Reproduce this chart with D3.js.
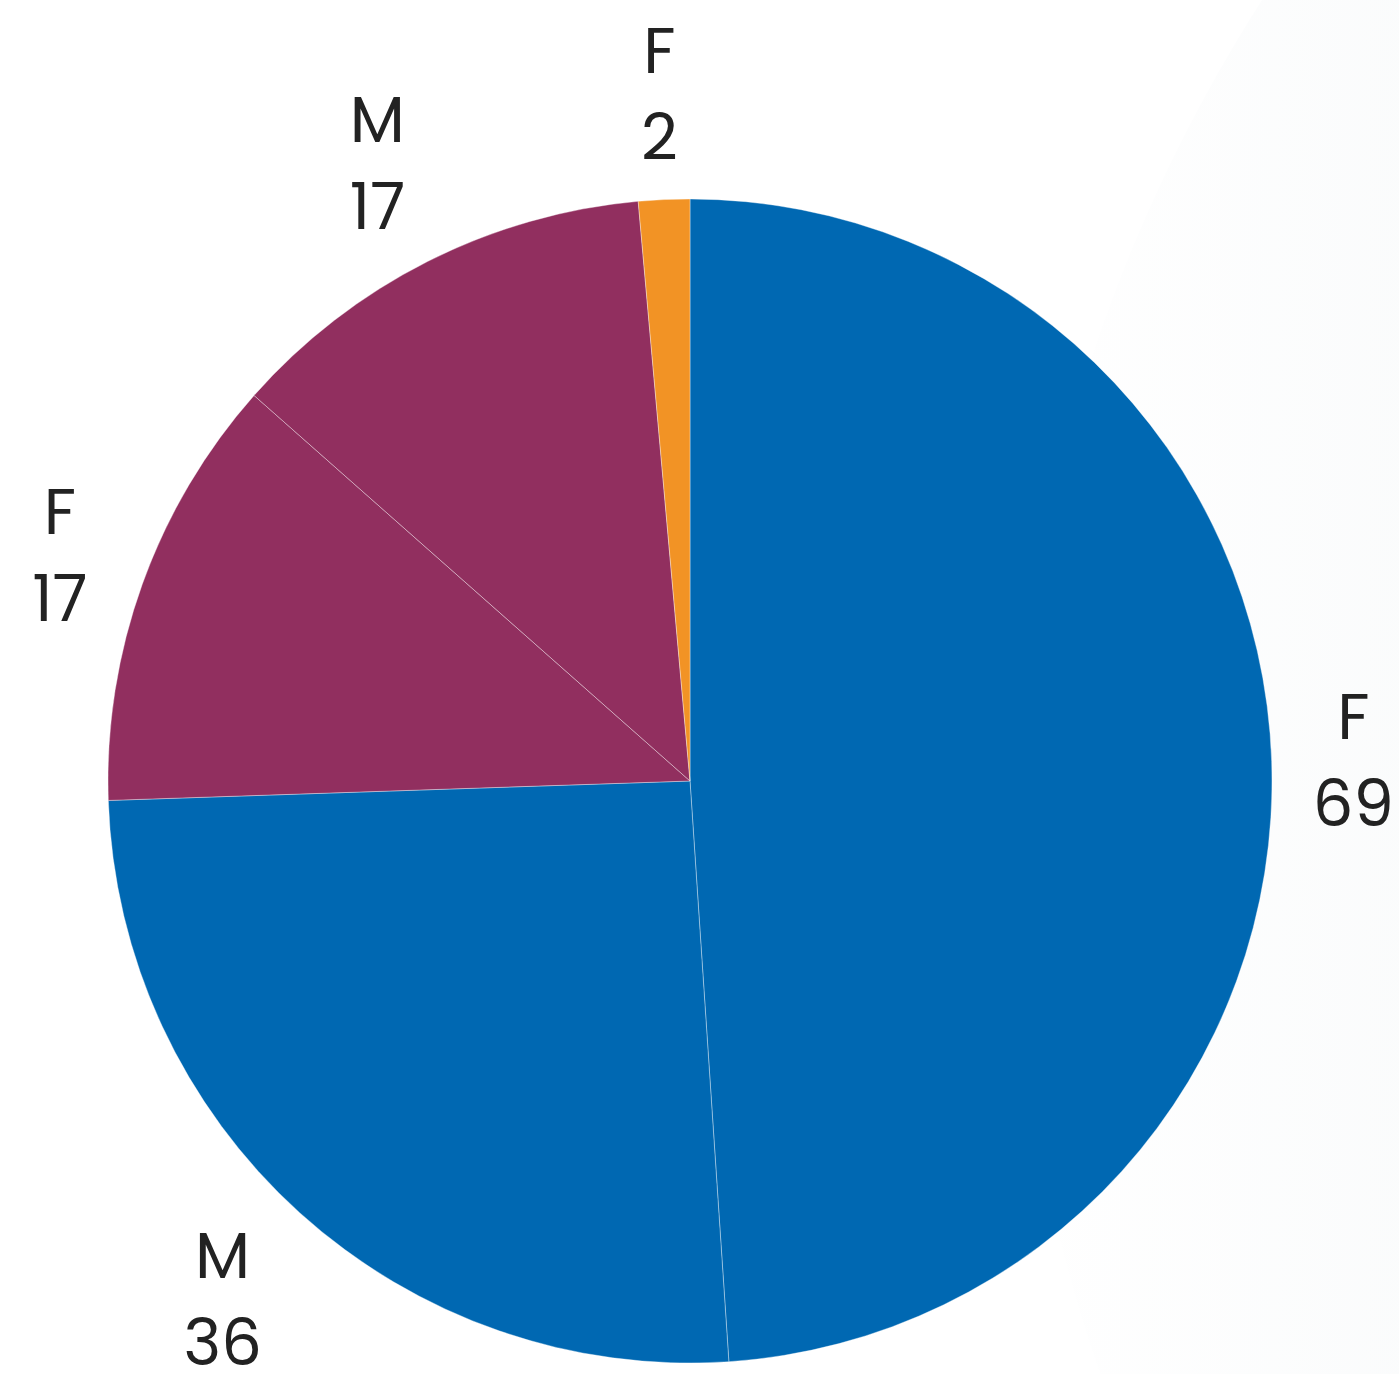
<!DOCTYPE html>
<html>
<head>
<meta charset="utf-8">
<script src="https://cdn.jsdelivr.net/npm/d3@7"></script>
<style>
  html, body { margin: 0; padding: 0; background: #ffffff; }
  svg { display: block; }
</style>
</head>
<body>
<div id="chart"></div>
<script>
// ---- data ----
const categories = ["F", "M", "F", "M", "F"];
const values = [69, 36, 17, 17, 2];
const colors = ["#0068B2", "#0068B2", "#912F5F", "#912F5F", "#F29325"];

// ---- layout ----
const W = 1399, H = 1374;
const cx = 690, cy = 781, R = 582;
const fontSize = 64, capH = 0.727 * fontSize, lineGap = 87, labelGap = 39;

const svg = d3.select("#chart").append("svg")
  .attr("width", W).attr("height", H);

// faint decorative background shape
const defs = svg.append("defs");
const grad = defs.append("linearGradient").attr("id", "bgGrad")
  .attr("x1", "0").attr("y1", "0").attr("x2", "1").attr("y2", "0");
grad.append("stop").attr("offset", "0").attr("stop-color", "#ffffff");
grad.append("stop").attr("offset", "0.25").attr("stop-color", "#f6f8f9");
grad.append("stop").attr("offset", "1").attr("stop-color", "#f3f6f8");
svg.append("circle")
  .attr("cx", 2592).attr("cy", 853).attr("r", 1580)
  .attr("fill", "url(#bgGrad)");

const data = categories.map((c, i) => ({ cat: c, value: values[i], color: colors[i] }));

const pie = d3.pie().sort(null).value(d => d.value);
const arcs = pie(data);
const arc = d3.arc().innerRadius(0).outerRadius(R);

const g = svg.append("g").attr("transform", `translate(${cx},${cy})`);

g.selectAll("path.slice").data(arcs).enter().append("path")
  .attr("class", "slice")
  .attr("d", arc)
  .attr("fill", d => d.data.color)
  .attr("stroke", "rgba(255,255,255,0.45)")
  .attr("stroke-width", 0.8)
  .attr("stroke-linejoin", "round");

// labels
const labels = g.selectAll("g.label").data(arcs).enter().append("g").attr("class", "label");
labels.each(function(d) {
  const lg = d3.select(this);
  const t1 = lg.append("text").text(d.data.cat)
    .attr("text-anchor", "middle")
    .attr("font-family", "Poppins, Inter, 'Noto Sans', sans-serif")
    .attr("font-size", fontSize).attr("fill", "#222222");
  const t2 = lg.append("text").text(d.data.value)
    .attr("text-anchor", "middle")
    .attr("font-family", "Poppins, Inter, 'Noto Sans', sans-serif")
    .attr("font-size", fontSize).attr("fill", "#222222");
  const hw = Math.max(t1.node().getComputedTextLength(), t2.node().getComputedTextLength()) / 2;
  const blockH = capH + lineGap;
  const hh = blockH / 2;
  const a = (d.startAngle + d.endAngle) / 2;
  const ux = Math.sin(a), uy = -Math.cos(a);
  const support = Math.abs(ux) * hw + Math.abs(uy) * hh;
  const dist = R + labelGap + support;
  const x = ux * dist, y = uy * dist;
  t1.attr("x", x).attr("y", y - hh + capH);
  t2.attr("x", x).attr("y", y - hh + capH + lineGap);
});
</script>
</body>
</html>
